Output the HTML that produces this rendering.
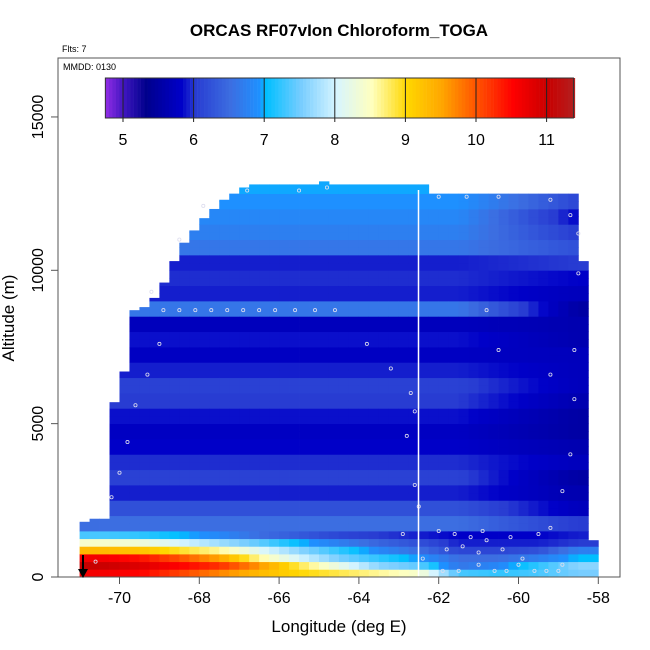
<!DOCTYPE html>
<html><head><meta charset="utf-8"><style>
html,body{margin:0;padding:0;background:#fff}
svg{display:block;font-family:"Liberation Sans",sans-serif}
</style></head><body>
<svg id="chart" width="650" height="650" viewBox="0 0 650 650">
<text x="339" y="36" text-anchor="middle" font-size="17" font-weight="bold">ORCAS RF07vIon Chloroform_TOGA</text>
<text x="62" y="52" font-size="9">Flts: 7</text>
<g id="heat"></g>
<g id="pts"></g>
<line x1="418.5" y1="190" x2="418.5" y2="577" stroke="#fff" stroke-width="1.5"/>
<rect x="58" y="58" width="562" height="519" fill="none" stroke="#555" stroke-width="1"/>
<text x="63" y="70" font-size="9">MMDD: 0130</text>
<g id="cbar"></g>
<g id="axes"></g>
<text x="339" y="632" text-anchor="middle" font-size="17">Longitude (deg E)</text>
<text x="14" y="318" text-anchor="middle" font-size="17" transform="rotate(-90 14 318)">Altitude (m)</text>
<line x1="83" y1="555" x2="83" y2="575" stroke="#000" stroke-width="2"/>
<polygon points="78,569 88,569 83,578" fill="#000"/>
</svg>
<script>
// data
const lonStart = -71, lonStep = 0.25;
const columnTops = [1800,1900,1900,5700,6700,8700,8800,9100,9600,10300,10900,11300,11700,12000,12300,12500,12700,12800,12800,12800,12800,12800,12800,12800,12900,12800,12800,12800,12800,12800,12800,12800,12800,12800,12800,12500,12500,12500,12500,12500,12500,12500,12500,12500,12500,12500,12500,12500,12500,12500,10300,1200];
const surfaceRow0 = [10.6,10.5,10.1,9.7,9.3,9.0,8.8,8.6,8.4,7.3,7.2,7.3,7.5];
const surfaceRow1 = [11.0,10.8,10.5,10.2,9.6,8.8,8.2,7.6,7.4,6.6,6.8,7.2,7.6];
const surfaceRow2 = [10.6,10.4,10.0,9.5,8.6,8.0,7.5,7.2,6.9,6.5,6.5,6.7,7.0];
const surfaceRow3 = [9.3,9.2,8.9,8.6,8.1,7.6,7.2,6.8,6.5,6.1,6.1,6.2,6.7];
const surfaceRow4 = [8.4,8.3,8.0,7.7,7.4,7.0,6.7,6.4,6.2,5.9,5.9,5.9,6.0];
const surfaceRow5 = [7.3,7.2,7.0,6.8,6.5,6.3,6.1,6.0,5.9,5.8,5.8,5.8,5.9];
const profileWest = [6.5,6.2,5.9,6.05,5.95,5.8,5.75,5.85,6.0,6.05,5.9,5.75,5.85,5.7,6.6,5.9,5.95,5.9,6.6,6.7,6.8,6.9,6.95];
const profileEast = [6.0,5.7,5.6,5.5,5.7,5.6,5.5,5.5,5.6,5.7,5.7,5.7,5.6,5.6,5.5,5.7,5.8,6.0,6.2,6.0,5.8,6.1,6.4];
const points = [[-70.6,500],[-70.2,2600],[-70.0,3400],[-69.8,4400],[-69.6,5600],[-69.3,6600],[-69.0,7600],[-68.9,8700],[-68.5,8700],[-68.1,8700],[-67.7,8700],[-67.3,8700],[-66.9,8700],[-66.5,8700],[-66.1,8700],[-65.6,8700],[-65.1,8700],[-64.6,8700],[-63.8,7600],[-63.2,6800],[-62.7,6000],[-62.6,5400],[-62.8,4600],[-62.6,3000],[-62.5,2300],[-62.9,1400],[-62.0,1500],[-61.6,1400],[-61.2,1300],[-60.8,1200],[-60.4,900],[-60.0,400],[-59.6,200],[-59.3,200],[-59.0,200],[-61.9,200],[-61.5,200],[-60.6,200],[-60.3,200],[-62.4,600],[-61.0,800],[-59.2,1600],[-58.9,2800],[-58.7,4000],[-58.6,5800],[-58.6,7400],[-58.5,9900],[-58.5,11200],[-58.7,11800],[-59.2,12300],[-60.5,12400],[-61.3,12400],[-62.0,12400],[-66.8,12600],[-65.5,12600],[-64.8,12700],[-67.9,12100],[-68.5,11000],[-69.2,9300],[-60.8,8700],[-60.5,7400],[-59.2,6600],[-61.8,900],[-61.4,1000],[-60.2,1300],[-59.9,600],[-59.5,1400],[-58.9,400],[-61.0,400],[-60.9,1500]];
const cbTicks = [5,6,7,8,9,10,11];
const xTicks = [-70,-68,-66,-64,-62,-60,-58];
const yTicks = [0,5000,10000,15000];

const X = lon => 119.5 + (lon + 70) * 39.9;
const Y = alt => 577 - alt * 0.03067;
const stops = [[4.75,[138,43,226]],[5.0,[60,20,190]],[5.3,[0,0,140]],[5.8,[0,0,200]],[6.0,[40,60,210]],[6.5,[60,110,225]],[6.9,[30,144,255]],[7.0,[0,191,255]],[7.5,[120,205,255]],[8.0,[215,245,255]],[8.5,[255,255,190]],[9.0,[255,215,0]],[9.5,[255,165,0]],[10.0,[255,80,0]],[10.5,[255,0,0]],[11.0,[200,0,0]],[11.4,[178,34,34]]];
function col(v){
  if(v<=stops[0][0]) return `rgb(${stops[0][1]})`;
  for(let i=1;i<stops.length;i++){
    if(v<=stops[i][0]){const a=stops[i-1],b=stops[i],t=(v-a[0])/(b[0]-a[0]);
      return 'rgb('+a[1].map((c,k)=>Math.round(c+(b[1][k]-c)*t)).join(',')+')';}
  }
  return `rgb(${stops[stops.length-1][1]})`;
}
function interp(arr,pos){
  const p=Math.max(0,Math.min(arr.length-1,pos));const i=Math.min(arr.length-2,Math.floor(p));const t=p-i;
  return arr[i]+(arr[i+1]-arr[i])*t;
}
const NS='http://www.w3.org/2000/svg';
const heat=document.getElementById('heat');
const surf=[surfaceRow0,surfaceRow1,surfaceRow2,surfaceRow3,surfaceRow4,surfaceRow5];
columnTops.forEach((top,i)=>{
  const lon=lonStart+i*lonStep, pos=lon+lonStep/2-lonStart-0.5;
  let w=(lon+lonStep/2+61.5)/3; w=Math.max(0,Math.min(1,w));
  for(let a=0;a<top;a+=250){
    const r=a/250; let v;
    if(r<6) v=interp(surf[r],pos);
    else{const k=Math.min(profileWest.length-1,Math.floor((a-1500)/500));v=profileWest[k]*(1-w)+profileEast[k]*w;}
    const h=Math.min(250,top-a);
    const el=document.createElementNS(NS,'rect');
    el.setAttribute('x',X(lon).toFixed(2));el.setAttribute('width',(X(lon+lonStep)-X(lon)+0.4).toFixed(2));
    el.setAttribute('y',(Y(a+h)).toFixed(2));el.setAttribute('height',(Y(a)-Y(a+h)+0.4).toFixed(2));
    el.setAttribute('fill',col(v));
    
    
    heat.appendChild(el);
  }
});
const pts=document.getElementById('pts');
points.forEach(p=>{
  const c=document.createElementNS(NS,'circle');
  c.setAttribute('cx',X(p[0]));c.setAttribute('cy',Y(p[1]));c.setAttribute('r',1.6);
  c.setAttribute('fill','none');c.setAttribute('stroke','#dde');c.setAttribute('stroke-width','0.8');
  
  
  pts.appendChild(c);
});
// colorbar
const cb=document.getElementById('cbar');
const CX=v=>123+(v-5)*70.6;
for(let v=4.75;v<11.38;v+=0.05){
  const r=document.createElementNS(NS,'rect');
  r.setAttribute('x',CX(v));r.setAttribute('y',78);r.setAttribute('width',3.8);r.setAttribute('height',40);
  r.setAttribute('fill',col(v));
  
  
  cb.appendChild(r);
}
const fr=document.createElementNS(NS,'rect');
fr.setAttribute('x',CX(4.75));fr.setAttribute('y',78);fr.setAttribute('width',CX(11.38)-CX(4.75));fr.setAttribute('height',40);
fr.setAttribute('fill','none');fr.setAttribute('stroke','#333');


cb.appendChild(fr);
cbTicks.forEach(v=>{
  const l=document.createElementNS(NS,'line');
  l.setAttribute('x1',CX(v));l.setAttribute('x2',CX(v));l.setAttribute('y1',78);l.setAttribute('y2',122);l.setAttribute('stroke','#222');
  
  
  cb.appendChild(l);
  const t=document.createElementNS(NS,'text');
  t.setAttribute('x',CX(v));t.setAttribute('y',145);t.setAttribute('text-anchor','middle');t.setAttribute('font-size','16');
  t.textContent=v;
  
  
  cb.appendChild(t);
});
// axes
const ax=document.getElementById('axes');
xTicks.forEach(v=>{
  const l=document.createElementNS(NS,'line');
  l.setAttribute('x1',X(v));l.setAttribute('x2',X(v));l.setAttribute('y1',577);l.setAttribute('y2',584);l.setAttribute('stroke','#555');
  
  
  ax.appendChild(l);
  const t=document.createElementNS(NS,'text');
  t.setAttribute('x',X(v));t.setAttribute('y',603);t.setAttribute('text-anchor','middle');t.setAttribute('font-size','16');
  t.textContent=v;
  
  
  ax.appendChild(t);
});
yTicks.forEach(v=>{
  const l=document.createElementNS(NS,'line');
  l.setAttribute('x1',51);l.setAttribute('x2',58);l.setAttribute('y1',Y(v));l.setAttribute('y2',Y(v));l.setAttribute('stroke','#555');
  
  
  ax.appendChild(l);
  const t=document.createElementNS(NS,'text');
  t.setAttribute('x',43);t.setAttribute('y',Y(v));t.setAttribute('text-anchor','middle');t.setAttribute('font-size','16');
  t.setAttribute('transform',`rotate(-90 43 ${Y(v)})`);
  t.textContent=v;
  
  
  ax.appendChild(t);
});
</script>
</body></html>
